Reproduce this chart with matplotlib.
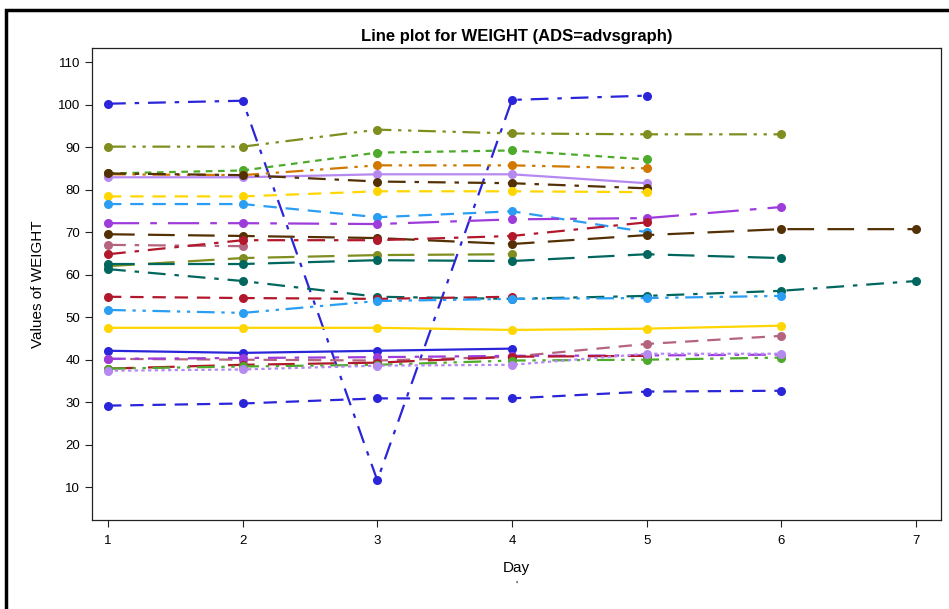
import matplotlib
matplotlib.use("Agg")
import matplotlib.pyplot as plt
from matplotlib.patches import Rectangle

plt.rcParams['font.family'] = ['Liberation Sans', 'DejaVu Sans']

days = [1, 2, 3, 4, 5, 6, 7]

# one entry per subject: weights by day
blue_dd = [100.2, 100.9, 11.6, 101.1, 102.1]
olive_ddd = [90.1, 90.1, 94.1, 93.2, 93.0, 93.0]
green_sd = [83.8, 84.5, 88.7, 89.2, 87.1]
orange_ddd = [83.6, 83.4, 85.7, 85.7, 85.0]
lav_solid = [82.9, 82.9, 83.6, 83.6, 81.5]
brown_dd = [83.8, 83.4, 81.9, 81.5, 80.3]
yellow_dash = [78.4, 78.4, 79.6, 79.6, 79.4]
lblue_dash = [76.6, 76.6, 73.5, 74.9, 70.0]
purple_ldd = [72.1, 72.1, 71.9, 73.0, 73.3, 75.9]
brown_ld = [69.5, 69.1, 68.6, 67.2, 69.3, 70.7, 70.7]
mauve_dd = [67.0, 66.7]
red_dd = [64.8, 68.1, 68.1, 69.1, 72.3]
olive_ld = [62.0, 63.9, 64.6, 64.8]
teal_ld = [62.5, 62.5, 63.4, 63.2, 64.8, 63.9]
teal_dd = [61.3, 58.5, 54.8, 54.3, 55.0, 56.2, 58.5]
red_ld = [54.8, 54.5, 54.3, 54.8]
lblue_ddd = [51.7, 51.0, 53.8, 54.3, 54.5, 55.0]
yellow_solid = [47.5, 47.5, 47.5, 47.0, 47.3, 48.0]
blue_solid = [42.1, 41.6, 42.1, 42.6]
mauve_dash = [40.2, 40.0, 39.8, 40.7, 43.7, 45.6]
purple_dd = [40.2, 40.4, 40.6, 40.9, 41.0, 41.2]
red_solid = [37.9, 38.8, 39.3, 40.7, 40.9]
green_dd = [37.9, 38.4, 38.8, 39.8, 40.0, 40.5]
lav_dot = [37.4, 37.7, 38.6, 38.8, 41.4, 41.4]
blue_dash = [29.2, 29.7, 30.9, 30.9, 32.5, 32.7]

BLUE = '#2a25d9'
OLIVE = '#7f8e1f'
GREEN = '#4daa2a'
ORANGE = '#d17800'
LAV = '#b689f0'
BROWN = '#543005'
YELLOW = '#ffd600'
LBLUE = '#2a9df4'
PURPLE = '#9d3cdb'
RED = '#b2182b'
MAUVE = '#b5647f'
TEAL = '#01665e'

DASHDOT = (0, (8, 4, 2, 4))
DDD = (0, (8, 3, 1.5, 3, 1.5, 3))
SHORTDASH = (0, (3, 2.5))
DASH = (0, (6, 4))
LONGDASH = (0, (12, 6))
LDD = (0, (14, 5, 3, 5))
DOT = (0, (1.5, 1.5))

series = [
    (blue_dd, BLUE, DASHDOT),
    (olive_ddd, OLIVE, DDD),
    (green_sd, GREEN, SHORTDASH),
    (orange_ddd, ORANGE, DDD),
    (lav_solid, LAV, '-'),
    (brown_dd, BROWN, DASHDOT),
    (yellow_dash, YELLOW, DASH),
    (lblue_dash, LBLUE, DASH),
    (purple_ldd, PURPLE, LDD),
    (brown_ld, BROWN, LONGDASH),
    (mauve_dd, MAUVE, DASHDOT),
    (red_dd, RED, DASHDOT),
    (olive_ld, OLIVE, LONGDASH),
    (teal_ld, TEAL, LONGDASH),
    (teal_dd, TEAL, DASHDOT),
    (red_ld, RED, DASH),
    (lblue_ddd, LBLUE, DDD),
    (yellow_solid, YELLOW, '-'),
    (blue_solid, BLUE, '-'),
    (mauve_dash, MAUVE, DASH),
    (purple_dd, PURPLE, DASHDOT),
    (red_solid, RED, LONGDASH),
    (green_dd, GREEN, DDD),
    (lav_dot, LAV, DOT),
    (blue_dash, BLUE, DASH),
]

fig = plt.figure(figsize=(9.49, 6.09), dpi=100)
ax = fig.add_axes([92 / 949, 1 - 520 / 609, (941 - 92) / 949, (520 - 48) / 609])

for vals, col, ls in series:
    ax.plot(days[:len(vals)], vals, color=col, linestyle=ls, linewidth=1.6,
            marker='o', markersize=6.5, markeredgewidth=0)

ax.set_xlim(0.881, 7.186)
ax.set_ylim(2.3, 113.3)
ax.set_xticks(days)
ax.set_yticks(range(10, 111, 10))
ax.tick_params(labelsize=9.5, length=5, width=0.8, color='#222222')
ax.tick_params(axis='x', pad=6)
for s in ax.spines.values():
    s.set_linewidth(0.9)
    s.set_color('#222222')

ax.set_title('Line plot for WEIGHT (ADS=advsgraph)', fontsize=12, fontweight='bold', pad=5)
ax.set_ylabel('Values of WEIGHT', fontsize=11, labelpad=9)
ax.set_xlabel('Day', fontsize=11, labelpad=10)
fig.text(516 / 949, 1 - 586 / 609, "'", ha='center', va='center', fontsize=8)

# outer frame, only left and top edges fall inside the picture
fig.patches.append(Rectangle((6 / 949, -0.05), 1.1, 1 - 10 / 609 + 0.05, transform=fig.transFigure,
                             fill=False, edgecolor='black', linewidth=2.5))

fig.savefig('out.png', dpi=100)
